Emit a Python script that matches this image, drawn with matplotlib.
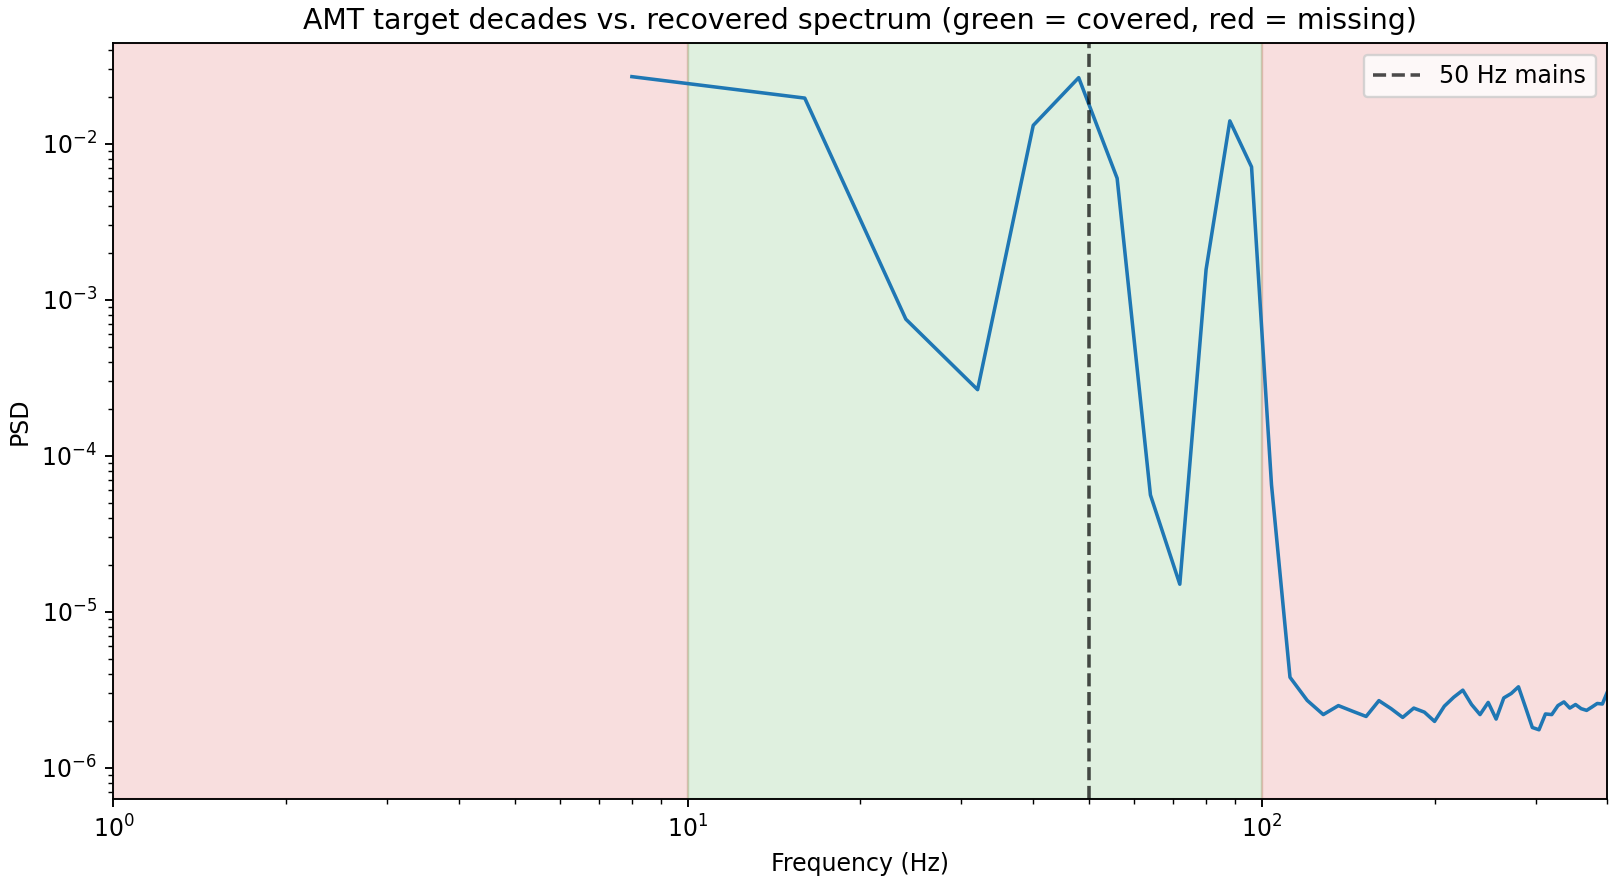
import numpy as np
import matplotlib
matplotlib.use("Agg")
from matplotlib import pyplot as plt

# spectrum, bins every 8 Hz
freqs = np.arange(8, 401, 8)
psd = [
    2.69e-2, 1.96e-2, 7.5e-4, 2.65e-4, 1.31e-2, 2.65e-2, 6.0e-3, 5.6e-5,
    1.5e-5, 1.56e-3, 1.40e-2, 7.1e-3, 6.5e-5, 3.8e-6, 2.70e-6, 2.19e-6,
    2.50e-6, 2.30e-6, 2.13e-6, 2.69e-6, 2.39e-6, 2.10e-6, 2.41e-6, 2.27e-6,
    1.98e-6, 2.48e-6, 2.83e-6, 3.14e-6, 2.54e-6, 2.19e-6, 2.62e-6, 2.05e-6,
    2.80e-6, 2.99e-6, 3.30e-6, 2.44e-6, 1.81e-6, 1.75e-6, 2.21e-6, 2.19e-6,
    2.50e-6, 2.64e-6, 2.41e-6, 2.54e-6, 2.39e-6, 2.33e-6, 2.45e-6, 2.58e-6,
    2.56e-6, 3.06e-6,
]

# target decades: (low, high, covered?)
decades = [(1, 10, False), (10, 100, True), (100, 1000, False)]
mains = 50

fig = plt.figure(figsize=(1615 / 170, 884 / 170), dpi=170)
ax = fig.add_subplot(111)
fig.subplots_adjust(left=0.0702, right=0.9953, top=0.9517, bottom=0.0958)

for lo, hi, ok in decades:
    ax.axvspan(lo, hi, color="tab:green" if ok else "tab:red", alpha=0.15)

ax.loglog(freqs, psd, color="tab:blue", lw=1.5)
ax.axvline(mains, color="k", ls="--", alpha=0.7, label="50 Hz mains")

ax.set_xlim(1, 400)
ax.set_ylim(6.27e-7, 4.44e-2)
ax.set_xlabel("Frequency (Hz)")
ax.set_ylabel("PSD")
ax.set_title("AMT target decades vs. recovered spectrum (green = covered, red = missing)")
ax.legend(loc="upper right")

fig.savefig("out.png", dpi=170)
